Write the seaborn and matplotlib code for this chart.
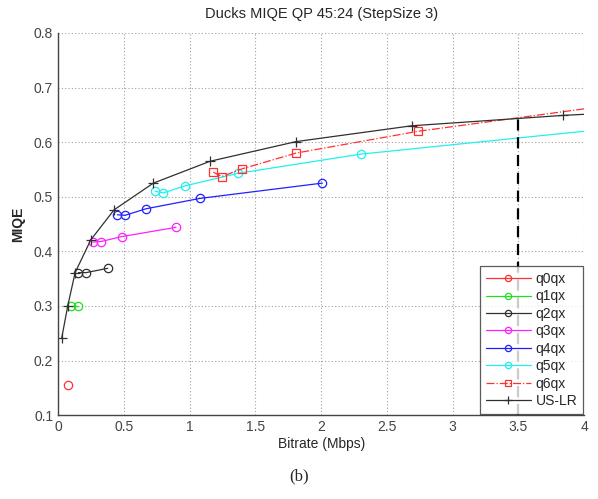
import numpy as np
import pandas as pd
import matplotlib
matplotlib.use('Agg')
import matplotlib.pyplot as plt
import seaborn as sns

# data
q0_x = [0.078]
q0_y = [0.155]
q1_x = [0.097, 0.155]
q1_y = [0.300, 0.300]
q2_x = [0.155, 0.213, 0.378]
q2_y = [0.361, 0.361, 0.369]
q3_x = [0.264, 0.327, 0.484, 0.897]
q3_y = [0.417, 0.418, 0.427, 0.444]
q4_x = [0.451, 0.510, 0.669, 1.080, 2.010]
q4_y = [0.467, 0.466, 0.478, 0.497, 0.525]
q5_x = [0.738, 0.800, 0.966, 1.371, 2.300, 4.000]
q5_y = [0.510, 0.507, 0.520, 0.543, 0.578, 0.620]
q6_x = [1.181, 1.245, 1.397, 1.810, 2.740, 4.000]
q6_y = [0.545, 0.537, 0.551, 0.580, 0.620, 0.661]
uslr_x = [0.028, 0.074, 0.130, 0.249, 0.426, 0.725, 1.156, 1.810, 2.690, 3.840, 4.000]
uslr_y = [0.241, 0.300, 0.361, 0.421, 0.476, 0.525, 0.565, 0.601, 0.630, 0.649, 0.651]
cut_x = [3.5, 3.5]
cut_y = [0.1, 0.643]

series = [
	('q0qx', q0_x, q0_y, '#ff3030', '-', 'o'),
	('q1qx', q1_x, q1_y, '#20e020', '-', 'o'),
	('q2qx', q2_x, q2_y, '#303030', '-', 'o'),
	('q3qx', q3_x, q3_y, '#ff20ff', '-', 'o'),
	('q4qx', q4_x, q4_y, '#2020ff', '-', 'o'),
	('q5qx', q5_x, q5_y, '#20f0f0', '-', 'o'),
	('q6qx', q6_x, q6_y, '#ff3030', '-.', 's'),
	('US-LR', uslr_x, uslr_y, '#303030', '-', '+'),
]


def main():
	sns.set_style('white')
	plt.rcParams['font.family'] = ['Liberation Sans', 'DejaVu Sans']
	fig = plt.figure(figsize=(5.98, 4.99), dpi=100)
	ax = fig.add_axes([0.097, 0.168, 0.880, 0.766])

	for name, x, y, col, ls, mk in series:
		df = pd.DataFrame({'x': x, 'y': y})
		n = len(x)
		every = list(range(n - 1)) if (n > 1 and x[-1] >= 4.0) else None
		sns.lineplot(data=df, x='x', y='y', ax=ax, sort=False, estimator=None,
					 color=col, linestyle=ls, marker=mk, markersize=6 if mk != '+' else 7,
					 markerfacecolor='none', markeredgecolor=col, markeredgewidth=0.9,
					 linewidth=0.9, markevery=every, label=name, clip_on=True)

	sns.lineplot(x=cut_x, y=cut_y, ax=ax, color='black', linestyle=(0, (5, 3)),
				 linewidth=1.6, estimator=None, sort=False, legend=False)

	ax.set_xlim(0, 4)
	ax.set_ylim(0.1, 0.8)
	ax.set_xticks(np.arange(0, 4.01, 0.5))
	ax.set_xticklabels(['0', '0.5', '1', '1.5', '2', '2.5', '3', '3.5', '4'])
	ax.set_yticks(np.arange(0.1, 0.81, 0.1))
	ax.set_yticklabels(['0.1', '0.2', '0.3', '0.4', '0.5', '0.6', '0.7', '0.8'])
	ax.grid(True, linestyle=(0, (1, 2)), color='#a0a0a0', linewidth=0.8)
	ax.tick_params(direction='in', length=3, labelsize=10, colors='#444444', width=0.8)
	for s in ['top', 'right']:
		ax.spines[s].set_visible(False)
	for s in ['left', 'bottom']:
		ax.spines[s].set_color('#444444')
		ax.spines[s].set_linewidth(1.0)

	ax.set_xlabel('Bitrate (Mbps)', fontsize=10, labelpad=2)
	ax.set_ylabel('MIQE', fontsize=10, fontweight='bold', labelpad=6)
	ax.set_title('Ducks MIQE QP 45:24 (StepSize 3)', fontsize=10.5, pad=11)

	leg = ax.legend(loc='lower right', fontsize=10, handlelength=3.3, frameon=True,
					fancybox=False, edgecolor='#333333', borderaxespad=0.1,
					labelspacing=0.25, handletextpad=0.3, borderpad=0.4,
					markerscale=0.75)
	leg.get_frame().set_linewidth(0.9)

	fig.text(0.5, 0.045, '(b)', ha='center', va='center', fontsize=12,
			 family=['Liberation Serif', 'DejaVu Serif'])
	fig.savefig('out.png', dpi=100)


if __name__ == '__main__':
	main()
